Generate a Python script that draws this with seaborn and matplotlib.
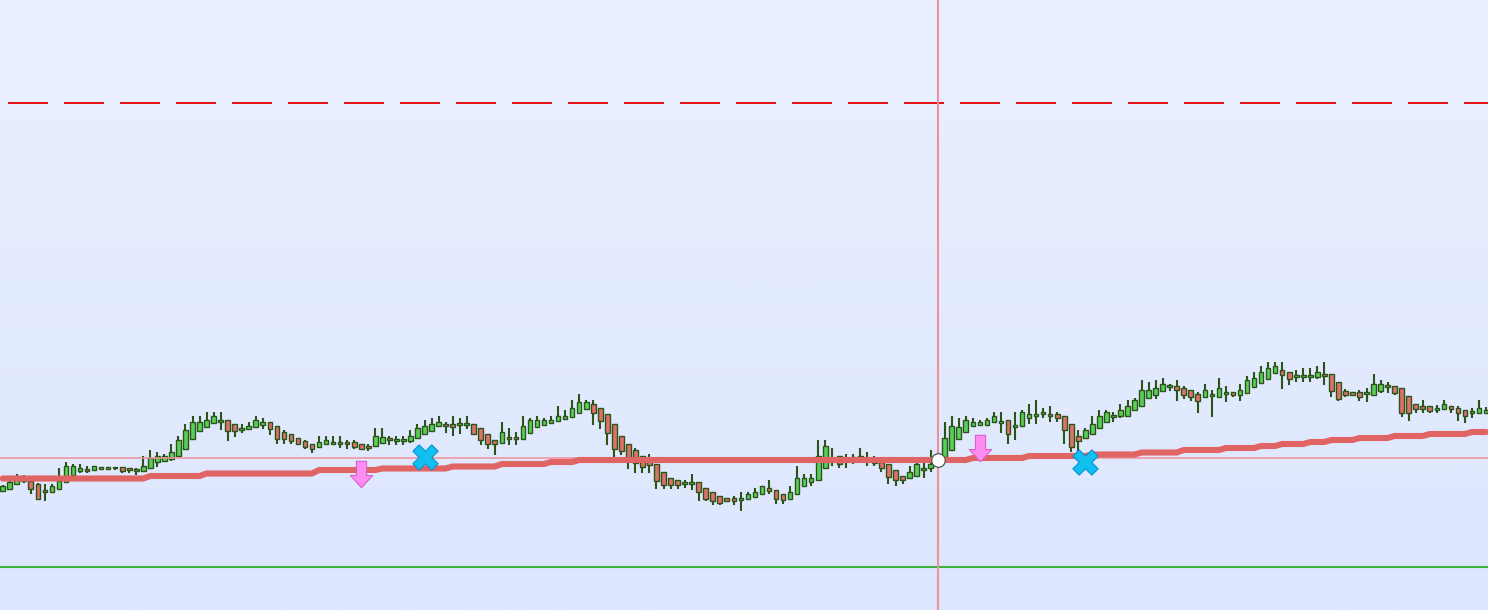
import numpy as np
import pandas as pd
import seaborn as sns
import matplotlib.pyplot as plt
from matplotlib.colors import LinearSegmentedColormap
from matplotlib.path import Path

# OHLC per bar (price units)
opens = [119, 121, 126, 133, 129, 126, 120, 118, 121, 128,
         135, 139, 141, 140, 141, 141, 143.5, 143.5, 142, 140,
         139, 142, 148, 149, 151, 154, 161, 171, 179, 183,
         187, 189, 190, 186, 181, 181, 183, 185, 188, 184,
         178, 176, 172, 169, 166, 163, 166, 167, 167, 168,
         168, 166, 164, 164, 167, 172, 170, 170, 169, 172,
         176, 179, 184, 186, 186, 186, 186, 186, 182, 176,
         170, 167, 173, 173, 171, 177, 183, 185, 187, 189,
         191, 193, 197, 201, 206, 202, 196, 186, 174, 166,
         160, 154, 151, 146, 138, 132, 130, 127, 127, 128,
         122, 118, 114, 112, 112, 111, 111, 113, 116, 122,
         120, 116, 111, 116, 124, 128, 130, 142, 150, 154,
         150, 152, 154, 150, 148, 148, 146, 140, 134, 132,
         134, 141, 142, 146, 153, 160, 171, 178, 184, 185,
         185, 188, 188, 190, 184, 184, 192, 194, 196, 196,
         196, 194, 186, 174, 172, 176, 182, 188, 194, 194,
         194, 200, 204, 212, 215, 219, 224, 224, 222, 220,
         216, 213, 215, 213, 217, 218, 215, 217, 223, 227,
         231, 237, 240, 238, 234, 234, 234, 233, 236, 236,
         228, 219, 218, 218, 217, 215, 219, 224, 224, 222,
         214, 206, 204, 204, 201, 201, 204, 202, 200, 198,
         197, 197]
highs = [125, 130, 136, 135, 130, 127, 126, 126, 142, 148,
         146, 146, 144, 144, 143.5, 143.5, 143.5, 143.5, 142, 142,
         154, 160, 158, 156, 166, 174, 186, 194, 194, 198,
         198, 198, 190, 186, 186, 188, 194, 192, 188, 184,
         180, 176, 172, 170, 166, 174, 174, 174, 174, 170,
         170, 166, 166, 182, 182, 174, 174, 174, 180, 186,
         190, 192, 194, 188, 194, 192, 194, 186, 182, 176,
         170, 188, 182, 178, 194, 192, 194, 192, 194, 204,
         200, 210, 216, 210, 210, 202, 196, 186, 174, 166,
         162, 154, 156, 146, 138, 132, 130, 130, 136, 128,
         122, 118, 114, 112, 114, 118, 118, 122, 124, 130,
         120, 116, 124, 144, 136, 136, 170, 170, 162, 154,
         156, 156, 162, 158, 154, 148, 146, 140, 134, 144,
         150, 147, 160, 160, 188, 194, 192, 194, 192, 190,
         192, 198, 198, 190, 198, 200, 206, 210, 202, 204,
         198, 194, 186, 180, 182, 194, 200, 200, 198, 206,
         210, 212, 230, 228, 230, 232, 226, 230, 224, 220,
         218, 226, 220, 232, 224, 218, 226, 234, 238, 244,
         248, 248, 248, 238, 240, 242, 242, 244, 248, 236,
         228, 221, 218, 220, 222, 236, 230, 228, 224, 222,
         214, 206, 210, 204, 205, 210, 204, 204, 200, 202,
         210, 203]
lows = [118, 121, 126, 127, 116, 110, 109, 118, 121, 128,
        135, 137, 137, 140, 141, 141, 140, 137, 137, 135,
        139, 142, 143, 149, 149, 154, 161, 171, 179, 183,
        187, 180, 169, 173, 177, 180, 183, 181, 175, 166,
        166, 166, 165, 161, 157, 163, 166, 165, 162, 161,
        161, 161, 159, 164, 167, 165, 165, 165, 167, 172,
        176, 179, 184, 177, 174, 176, 181, 176, 165, 161,
        155, 167, 165, 165, 171, 177, 183, 185, 187, 189,
        191, 193, 197, 201, 185, 181, 165, 153, 155, 141,
        137, 137, 137, 121, 121, 121, 121, 122, 120, 109,
        109, 105, 105, 109, 105, 99, 111, 113, 116, 116,
        106, 106, 111, 116, 124, 124, 130, 142, 144, 142,
        142, 146, 147, 144, 144, 138, 126, 124, 126, 132,
        134, 132, 138, 144, 153, 160, 171, 178, 184, 185,
        185, 188, 177, 166, 170, 184, 186, 186, 192, 188,
        188, 166, 158, 158, 172, 176, 182, 188, 188, 192,
        194, 200, 204, 212, 211, 219, 219, 209, 211, 209,
        197, 213, 193, 213, 208, 213, 209, 217, 223, 227,
        231, 237, 221, 225, 228, 228, 228, 231, 225, 213,
        209, 213, 215, 209, 208, 215, 217, 217, 215, 193,
        189, 197, 197, 197, 197, 201, 197, 189, 187, 192,
        197, 197]
closes = [124, 128, 131, 129, 121, 111, 118, 124, 129, 144,
          144, 142, 139, 144, 143.5, 143.5, 142, 139, 140, 140,
          144, 152, 154, 154, 158, 170, 180, 188, 188, 190,
          194, 189, 179, 179, 181, 184, 190, 188, 181, 171,
          171, 169, 166, 163, 161, 168, 170, 167, 167, 166,
          163, 161, 162, 174, 173, 170, 170, 170, 174, 182,
          184, 186, 188, 184, 183, 186, 186, 176, 170, 166,
          166, 178, 171.5, 171.5, 184, 190, 190, 190, 190, 194,
          194, 202, 208, 208, 197, 189, 177, 161, 159, 149,
          147, 143, 145, 129, 125, 125, 125, 127, 127, 118,
          111, 109, 107, 109, 109, 111, 116, 118, 124, 119,
          111, 110, 118, 132, 132, 132, 154, 164, 150, 146,
          150, 152, 150, 150, 148, 142, 133, 130, 130, 138,
          146, 141, 146, 154, 172, 184, 183, 190, 188, 188,
          190, 194, 188, 176, 184, 198, 196, 196, 198, 194,
          192, 180, 163, 169, 180, 186, 194, 198, 194, 200,
          204, 210, 220, 220, 222, 226, 224, 220, 215, 213,
          209, 220, 215, 222, 217, 215, 220, 230, 232, 238,
          242, 244, 235, 231, 234, 234, 234, 238, 234, 219,
          211, 215, 215, 213, 217, 226, 226, 224, 217, 197,
          197, 201, 201, 199, 201, 206, 201, 197, 194, 198,
          202, 200]

# stepped trailing line: bar index where each level starts, and the level
ma_start = [0, 21, 29, 45, 54, 64, 71, 78, 82, 138, 146, 155, 162,
            168, 174, 179, 182, 186, 189, 193, 198, 203, 209]
ma_level = [131.5, 134, 136.5, 140, 141.5, 143.5, 146, 148, 150, 152, 154,
            155.5, 157.5, 160, 162, 164, 166, 168, 170, 172, 174, 176, 178]

upper_level = 507
lower_level = 43
cursor_bar = 133
cursor_price = 152
pivot_price = 150

sell_bar = [51, 139]
sell_price = [136, 162.5]
cross_bar = [60, 154]
cross_price = [153.5, 148]

df = pd.DataFrame({"open": opens, "high": highs, "low": lows, "close": closes})
df["bar"] = np.arange(len(df))
df["ma"] = np.repeat(ma_level, np.diff(ma_start + [len(df)]))

sns.set_theme(style="white")

fig = plt.figure(figsize=(14.88, 6.10), dpi=100)
ax = fig.add_axes([0, 0, 1, 1])
ax.set_axis_off()

# background gradient
bg = LinearSegmentedColormap.from_list("bg", ["#dde6fe", "#eaf0fe"])
ax.imshow(np.linspace(0, 1, 256).reshape(-1, 1), extent=[0, 1, 0, 1],
          transform=ax.transAxes, origin="lower", aspect="auto", cmap=bg, zorder=0)

# candles
wick_col = "#2b5518"
up = df["close"] >= df["open"]
ax.vlines(df["bar"], df["low"], df["high"], color=wick_col, lw=1.5, zorder=2)
body_h = np.maximum((df["close"] - df["open"]).abs(), 1.5)
body_mid = (df["close"] + df["open"]) / 2
ax.bar(df["bar"], body_h, bottom=body_mid - body_h / 2, width=0.66,
       color=np.where(up, "#58d058", "#e0706a"), edgecolor=wick_col,
       linewidth=1.0, zorder=3)

# levels and cursor
ax.axhline(upper_level, color="#e41418", lw=1.44, ls=(24, (20, 8)), zorder=1)
ax.axhline(lower_level, color="#3cb43c", lw=1.5, zorder=1)
ax.axhline(cursor_price, color="#f0909a", lw=1.1, zorder=4)
ax.axvline(cursor_bar, color="#f0909a", lw=1.5, zorder=4)

# trailing stop line
sns.lineplot(data=df, x="bar", y="ma", color="#e06464", lw=4.4, ax=ax, zorder=5)

# signal markers
arrow = Path([(-5, 13), (5, 13), (5, -1), (11, -1), (0, -13), (-11, -1), (-5, -1), (-5, 13)],
             [Path.MOVETO] + [Path.LINETO] * 6 + [Path.CLOSEPOLY])
sns.scatterplot(x=sell_bar, y=sell_price, marker=arrow, s=360, color="#ff8cf0",
                edgecolor="#d860c8", linewidth=0.8, ax=ax, zorder=6)
sns.scatterplot(x=cross_bar, y=cross_price, marker="X", s=330, color="#10c0f0",
                edgecolor="#0a90d0", linewidth=0.8, ax=ax, zorder=6)
sns.scatterplot(x=[cursor_bar], y=[pivot_price], marker="o", s=95, color="white",
                edgecolor="#555555", linewidth=0.9, ax=ax, zorder=7)

ax.set_xlim(-0.384, 211.28)
ax.set_ylim(0, 610)

fig.savefig("out.png", dpi=100)
